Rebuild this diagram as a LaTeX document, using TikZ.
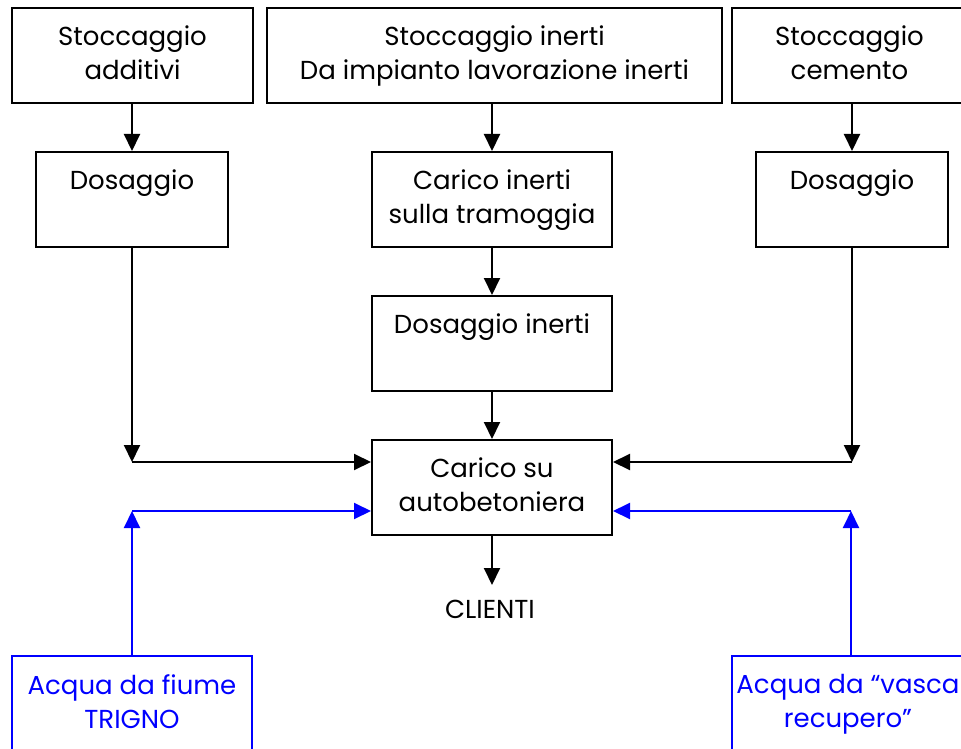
\documentclass[tikz,border=0pt]{standalone}
\usepackage{fontspec}
\setmainfont{Poppins}
\usetikzlibrary{arrows.meta}
\begin{document}
\begin{tikzpicture}[x=1pt,y=-1pt,
  box/.style={draw=black,line width=2pt,minimum width=#1,minimum height=95pt,inner sep=0pt,anchor=north west},
  bbox/.style={draw=blue,line width=2pt,minimum width=#1,minimum height=120pt,inner sep=0pt,anchor=north west},
  txt/.style={anchor=north,align=center,inner sep=0pt,font=\fontsize{26}{34}\selectfont},
  arr/.style={line width=2pt,-{Triangle[length=17pt,width=16pt]}},
  barr/.style={arr,blue}]
\useasboundingbox (0,0) rectangle (961,749);
\clip (0,0) rectangle (961,749);
% boxes
\node[box=241pt] (A) at (11,7) {};
\node[box=455pt] (B) at (266,7) {};
\node[box=235pt] (C) at (731,7) {};
\node[box=192pt] (dL) at (35,151) {};
\node[box=240pt] (ci) at (371,151) {};
\node[box=192pt] (dR) at (755,151) {};
\node[box=240pt] (di) at (371,295) {};
\node[box=240pt] (cb) at (371,439) {};
\node[bbox=240pt] (wL) at (11,655) {};
\node[bbox=240pt] (wR) at (731,655) {};
% texts
\node[txt] (tA) at ([yshift=-19pt]A.north) {Stoccaggio\\additivi};
\node[txt] (tB) at ([yshift=-19pt]B.north) {Stoccaggio inerti\\Da impianto lavorazione inerti};
\node[txt] (tC) at ([yshift=-19pt]C.north) {Stoccaggio\\cemento};
\node[txt] (tdL) at ([yshift=-19pt]dL.north) {Dosaggio};
\node[txt] (tci) at ([yshift=-19pt]ci.north) {Carico inerti\\sulla tramoggia};
\node[txt] (tdR) at ([yshift=-19pt]dR.north) {Dosaggio};
\node[txt] (tdi) at ([yshift=-19pt]di.north) {Dosaggio inerti};
\node[txt] (tcb) at ([yshift=-19pt]cb.north) {Carico su\\autobetoniera};
\node[txt,text=blue] (twL) at ([yshift=-19pt]wL.north) {Acqua da fiume\\TRIGNO};
\node[txt,text=blue] (twR) at (848,674) {Acqua da “vasca\\recupero”};
\node[anchor=center,inner sep=0pt,font=\fontsize{26}{34}\selectfont] (cl) at (490,609) {CLIENTI};
% coordinates
\coordinate (kL) at (131,462);
\coordinate (kR) at (851,462);
\coordinate (bL) at (131,511);
\coordinate (bR) at (851,511);
\coordinate (cle) at (490,585);
% connectors
\draw[arr] (dL.north |- A.south) -- (dL.north);
\draw[arr] (ci.north |- B.south) -- (ci.north);
\draw[arr] (dR.north |- C.south) -- (dR.north);
\draw[arr] (ci.south) -- (di.north);
\draw[arr] (di.south) -- (cb.north);
\draw[arr] (cb.south) -- (cb.south |- cle);
\draw[arr] (dL.south) -- (dL.south |- kL);
\draw[arr] (dL.south |- kL) -- (cb.west |- kL);
\draw[arr] (dR.south) -- (dR.south |- kR);
\draw[arr] (dR.south |- kR) -- (cb.east |- kR);
\draw[barr] (wL.north) -- (wL.north |- bL);
\draw[barr] (wL.north |- bL) -- (cb.west |- bL);
\draw[barr] (bR |- wR.north) -- (bR);
\draw[barr] (bR) -- (cb.east |- bR);
\end{tikzpicture}
\end{document}
